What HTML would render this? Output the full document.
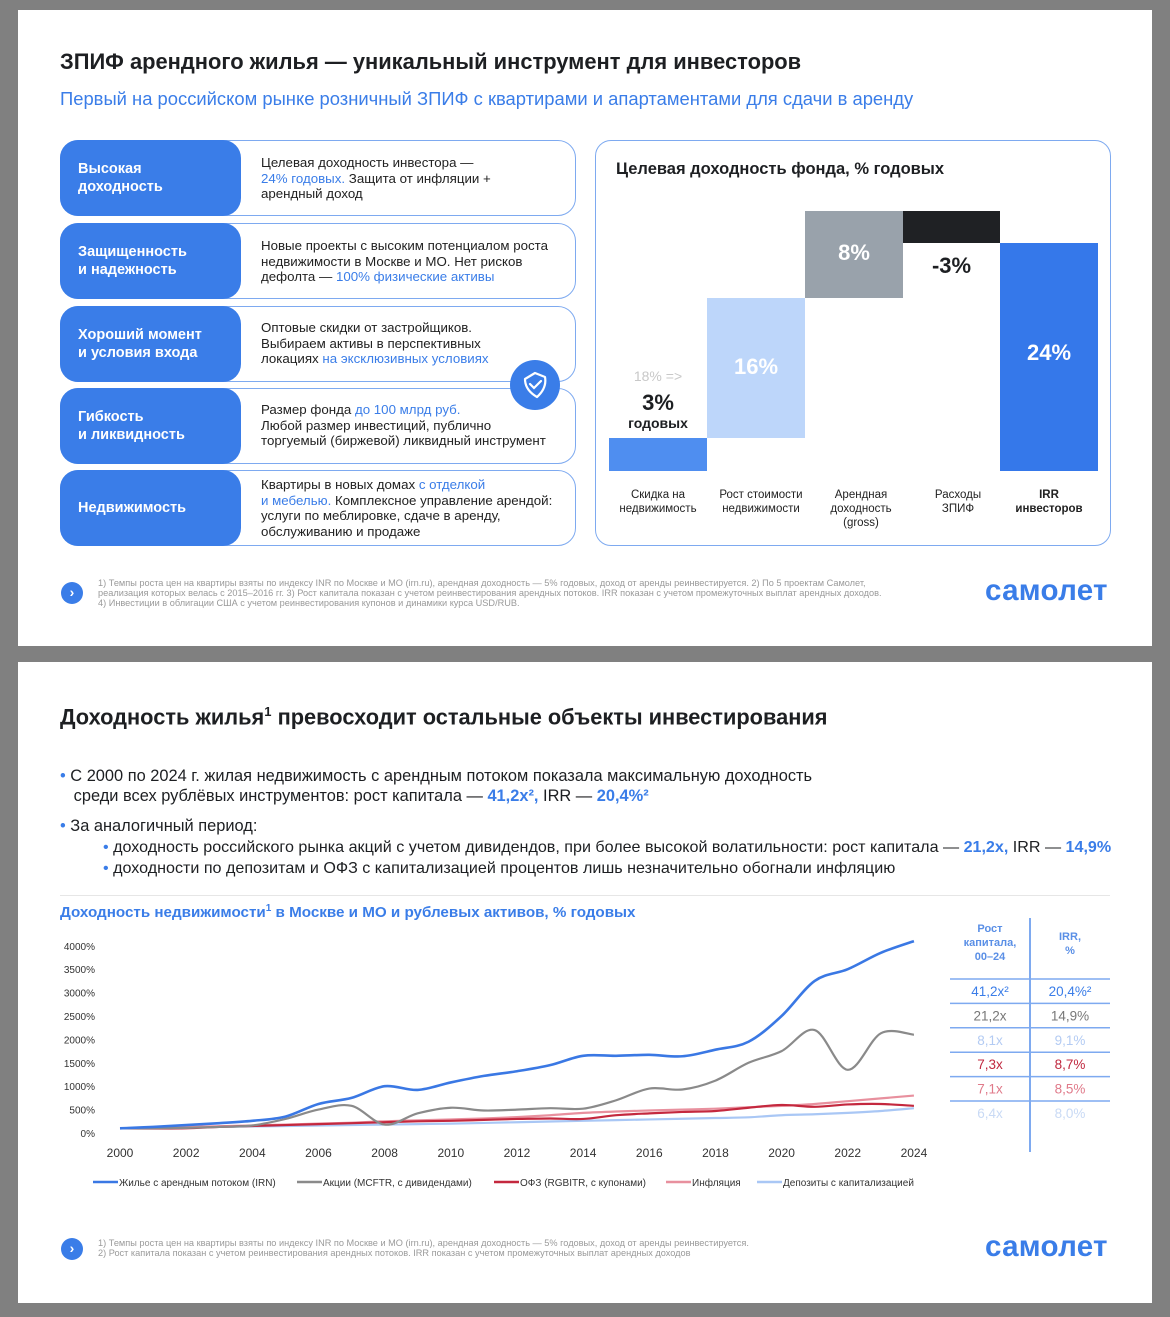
<!DOCTYPE html>
<html><head><meta charset="utf-8"><style>
*{margin:0;padding:0;box-sizing:border-box}
body{width:1170px;height:1317px;background:#808080;font-family:"Liberation Sans","Noto Sans CJK SC",sans-serif;position:relative;overflow:hidden;color:#1d1f22}
.s{position:absolute;background:#fff}
.a{position:absolute;white-space:nowrap}
.b{color:#3a7de8}
.card{position:absolute;left:60px;width:516px;height:76px;border:1.3px solid #7eaaf0;border-radius:18px;background:#fff}
.lab{position:absolute;left:-1px;top:-1px;width:181px;height:76px;background:#3a7de8;border-radius:18px;color:#fff;font-weight:bold;font-size:14.5px;line-height:18px;padding-left:18px;display:flex;align-items:center}
.txt{position:absolute;left:200px;font-size:13.3px;line-height:15.5px;color:#222}
.foot{font-size:9.2px;color:#9a9a9a;line-height:10px}
.logo{font-weight:bold;color:#3a7de8;font-size:29.5px;letter-spacing:0.3px}
.circ{position:absolute;width:22px;height:22px;border-radius:50%;background:#3a7de8;color:#fff;font-size:14px;font-weight:bold;text-align:center;line-height:21px}
.bar{position:absolute}
.xl{position:absolute;font-size:11.5px;line-height:14px;text-align:center;width:100px;color:#222}
</style></head><body>
<div class="s" style="left:18px;top:10px;width:1134px;height:636px"></div>
<div class="s" style="left:18px;top:662px;width:1134px;height:641px"></div>

<div class="a" style="left:60px;top:49px;font-size:21.9px;font-weight:bold">ЗПИФ арендного жилья — уникальный инструмент для инвесторов</div>
<div class="a b" style="left:60px;top:88px;font-size:18.4px">Первый на российском рынке розничный ЗПИФ с квартирами и апартаментами для сдачи в аренду</div>

<div class="card" style="top:140px"><div class="lab">Высокая<br>доходность</div><div class="txt" style="top:14px">Целевая доходность инвестора —<br><span class="b">24% годовых.</span> Защита от инфляции +<br>арендный доход</div></div>
<div class="card" style="top:223px"><div class="lab">Защищенность<br>и надежность</div><div class="txt" style="top:14px">Новые проекты с высоким потенциалом роста<br>недвижимости в Москве и МО. Нет рисков<br>дефолта — <span class="b">100% физические активы</span></div></div>
<div class="card" style="top:306px"><div class="lab">Хороший момент<br>и условия входа</div><div class="txt" style="top:13px">Оптовые скидки от застройщиков.<br>Выбираем активы  в перспективных<br>локациях <span class="b">на эксклюзивных условиях</span></div></div>
<div class="card" style="top:388px"><div class="lab">Гибкость<br>и ликвидность</div><div class="txt" style="top:13px">Размер фонда <span class="b">до 100 млрд руб.</span><br>Любой размер инвестиций, публично<br>торгуемый (биржевой) ликвидный инструмент</div></div>
<div class="card" style="top:470px"><div class="lab">Недвижимость</div><div class="txt" style="top:6px">Квартиры в новых домах <span class="b">с отделкой<br>и мебелью.</span> Комплексное управление арендой:<br>услуги по меблировке, сдаче в аренду,<br>обслуживанию и продаже</div></div>
<div style="position:absolute;left:510px;top:360px;width:50px;height:50px;border-radius:50%;background:#3a7de8"></div>
<svg style="position:absolute;left:510px;top:360px" width="50" height="50"><path d="M25 13 L35 17 Q37 28 27 37 Q15 30 15 19 Z" fill="none" stroke="#fff" stroke-width="2.2" stroke-linejoin="round"/><path d="M20 24 L24 28 L31 21" fill="none" stroke="#fff" stroke-width="2.2" stroke-linecap="round"/></svg>

<div style="position:absolute;left:595px;top:140px;width:516px;height:406px;border:1.3px solid #7eaaf0;border-radius:16px"></div>
<div class="a" style="left:616px;top:160px;font-size:16.5px;font-weight:bold">Целевая доходность фонда, % годовых</div>
<div class="bar" style="left:609px;top:438px;width:98px;height:33px;background:#4f8ef0"></div>
<div class="bar" style="left:707px;top:298px;width:98px;height:140px;background:#bdd6fa"></div>
<div class="bar" style="left:805px;top:211px;width:98px;height:87px;background:#99a2ab"></div>
<div class="bar" style="left:903px;top:211px;width:97px;height:32px;background:#1f2124"></div>
<div class="bar" style="left:1000px;top:243px;width:98px;height:228px;background:#3578ea"></div>
<div class="a" style="left:609px;width:98px;text-align:center;top:368px;font-size:14px;color:#c8c8c8">18% =&gt;</div>
<div class="a" style="left:609px;width:98px;text-align:center;top:390px;font-size:22px;font-weight:bold">3%</div>
<div class="a" style="left:609px;width:98px;text-align:center;top:415px;font-size:14px;font-weight:bold">годовых</div>
<div class="a" style="left:707px;width:98px;text-align:center;top:354px;font-size:22px;font-weight:bold;color:#fff">16%</div>
<div class="a" style="left:805px;width:98px;text-align:center;top:240px;font-size:22px;font-weight:bold;color:#fff">8%</div>
<div class="a" style="left:903px;width:97px;text-align:center;top:253px;font-size:22px;font-weight:bold">-3%</div>
<div class="a" style="left:1000px;width:98px;text-align:center;top:340px;font-size:22px;font-weight:bold;color:#fff">24%</div>
<div class="xl" style="left:608px;top:488px">Скидка на<br>недвижимость</div>
<div class="xl" style="left:711px;top:488px">Рост стоимости<br>недвижимости</div>
<div class="xl" style="left:811px;top:488px">Арендная<br>доходность<br>(gross)</div>
<div class="xl" style="left:908px;top:488px">Расходы<br>ЗПИФ</div>
<div class="xl b" style="left:999px;top:488px;font-weight:bold">IRR<br>инвесторов</div>

<div class="circ" style="left:61px;top:582px">›</div>
<div class="a foot" style="left:98px;top:578px">1) Темпы роста цен на квартиры взяты по индексу INR по Москве и МО (irn.ru), арендная доходность — 5% годовых, доход от аренды реинвестируется.  2) По 5 проектам Самолет,<br>реализация которых велась с 2015–2016 гг.  3) Рост капитала показан с учетом реинвестирования арендных потоков. IRR показан с учетом промежуточных выплат арендных доходов.<br>4) Инвестиции в облигации США с учетом реинвестирования купонов и динамики курса USD/RUB.</div>
<div class="a logo" style="left:985px;top:574px">самолет</div>

<div class="a" style="left:60px;top:704px;font-size:21.8px;font-weight:bold">Доходность жилья<sup style="font-size:13px">1</sup> превосходит остальные объекты инвестирования</div>
<div class="a" style="left:60px;top:766px;font-size:16.4px;line-height:20px"><span class="b">•</span> С 2000 по 2024 г. жилая недвижимость с арендным потоком показала максимальную доходность<br>&nbsp;&nbsp;&nbsp;среди всех рублёвых инструментов: рост капитала — <b class="b">41,2x²,</b> IRR — <b class="b">20,4%²</b></div>
<div class="a" style="left:60px;top:816px;font-size:16.4px;line-height:20px"><span class="b">•</span> За аналогичный период:</div>
<div class="a" style="left:103px;top:837px;font-size:16.1px;line-height:21px"><span class="b">•</span> доходность российского рынка акций с учетом дивидендов, при более высокой волатильности: рост капитала — <b class="b">21,2x,</b> IRR — <b class="b">14,9%</b><br><span class="b">•</span> доходности по депозитам и ОФЗ с капитализацией процентов лишь незначительно обогнали инфляцию</div>
<div style="position:absolute;left:60px;top:895px;width:1050px;height:1px;background:#e6e6e6"></div>
<div class="a b" style="left:60px;top:903px;font-size:15.2px;font-weight:bold">Доходность недвижимости<sup style="font-size:10px">1</sup> в Москве и МО и рублевых активов, % годовых</div>

<svg style="position:absolute;left:0;top:0" width="1170" height="1317" id="ch" font-family="Liberation Sans, sans-serif"></svg>

<div style="position:absolute;left:1029px;top:918px;width:1.5px;height:234px;background:#7eaaf0"></div>
<div class="a b" style="left:950px;width:80px;text-align:center;top:922px;font-size:11px;line-height:14px;font-weight:bold;color:#5a8fe6">Рост<br>капитала,<br>00–24</div>
<div class="a b" style="left:1030px;width:80px;text-align:center;top:930px;font-size:11px;line-height:14px;font-weight:bold;color:#5a8fe6">IRR,<br>%</div>
<div class="circ" style="left:61px;top:1238px">›</div>
<div class="a foot" style="left:98px;top:1238px">1) Темпы роста цен на квартиры взяты по индексу INR по Москве и МО (irn.ru), арендная доходность — 5% годовых, доход от аренды реинвестируется.<br>2) Рост капитала показан с учетом реинвестирования арендных потоков. IRR показан с учетом промежуточных выплат арендных доходов</div>
<div class="a logo" style="left:985px;top:1230px">самолет</div>

<script>
var svg=document.getElementById('ch'),h='';
function X(y){return 120+(y-2000)*33.08}
function Y(v){return 1133-v*0.0468}
for(var i=0;i<=8;i++){h+='<text x="95" y="'+(Y(i*500)+4)+'" font-size="10" text-anchor="end" fill="#333">'+(i*500)+'%</text>';}
for(var y=2000;y<=2024;y+=2){h+='<text x="'+X(y)+'" y="1157" font-size="12" text-anchor="middle" fill="#333">'+y+'</text>';}
function path(d){var p=d.map(function(v,i){return [X(2000+i),Y(v)]});var s='M'+p[0][0]+' '+p[0][1];
for(var i=0;i<p.length-1;i++){var p0=p[Math.max(i-1,0)],p1=p[i],p2=p[i+1],p3=p[Math.min(i+2,p.length-1)];
s+=' C'+(p1[0]+(p2[0]-p0[0])/6)+' '+(p1[1]+(p2[1]-p0[1])/6)+' '+(p2[0]-(p3[0]-p1[0])/6)+' '+(p2[1]-(p3[1]-p1[1])/6)+' '+p2[0]+' '+p2[1];}return s}
var S=[
['#a9c7f5',[100,110,120,130,140,150,160,170,180,190,200,215,230,245,260,275,290,305,320,335,380,400,430,470,530]],
['#e8909e',[100,115,130,145,160,180,200,220,250,270,290,310,340,380,430,460,480,500,520,550,580,620,680,740,800]],
['#c4283e',[100,95,100,130,150,170,190,210,230,250,260,280,300,310,300,380,420,450,470,540,600,560,610,620,580]],
['#8a8a8a',[100,100,110,130,160,300,500,580,180,420,540,480,500,530,520,700,950,930,1120,1500,1750,2200,1350,2130,2100]],
['#3a78e4',[100,130,170,210,260,350,620,750,1000,920,1080,1220,1320,1450,1650,1650,1670,1640,1780,1950,2500,3250,3500,3850,4100]]];
S.forEach(function(s,i){h+='<path d="'+path(s[1])+'" fill="none" stroke="'+s[0]+'" stroke-width="'+(i==4?2.6:2.2)+'" stroke-linejoin="round"/>';});
var L=[['#3a78e4','Жилье с арендным потоком (IRN)',93],['#8a8a8a','Акции (MCFTR, с дивидендами)',297],['#c4283e','ОФЗ (RGBITR, с купонами)',494],['#e8909e','Инфляция',666],['#a9c7f5','Депозиты с капитализацией',757]];
L.forEach(function(l){h+='<line x1="'+l[2]+'" x2="'+(l[2]+25)+'" y1="1182" y2="1182" stroke="'+l[0]+'" stroke-width="2.5"/><text x="'+(l[2]+26)+'" y="1186" font-size="10" fill="#333">'+l[1]+'</text>';});
var R=[['#3a7de8','41,2x²','20,4%²'],['#777','21,2x','14,9%'],['#b3cbf3','8,1x','9,1%'],['#c0283f','7,3x','8,7%'],['#e07a8a','7,1x','8,5%'],['#c9daf5','6,4x','8,0%']];
R.forEach(function(r,i){var y=979+i*24.4;h+='<line x1="950" x2="1110" y1="'+y+'" y2="'+y+'" stroke="#7eaaf0" stroke-width="1.5"/>';
h+='<text x="990" y="'+(y+17)+'" font-size="13.5" text-anchor="middle" fill="'+r[0]+'">'+r[1]+'</text><text x="1070" y="'+(y+17)+'" font-size="13.5" text-anchor="middle" fill="'+r[0]+'">'+r[2]+'</text>';});
svg.innerHTML=h;
</script>
</body></html>
